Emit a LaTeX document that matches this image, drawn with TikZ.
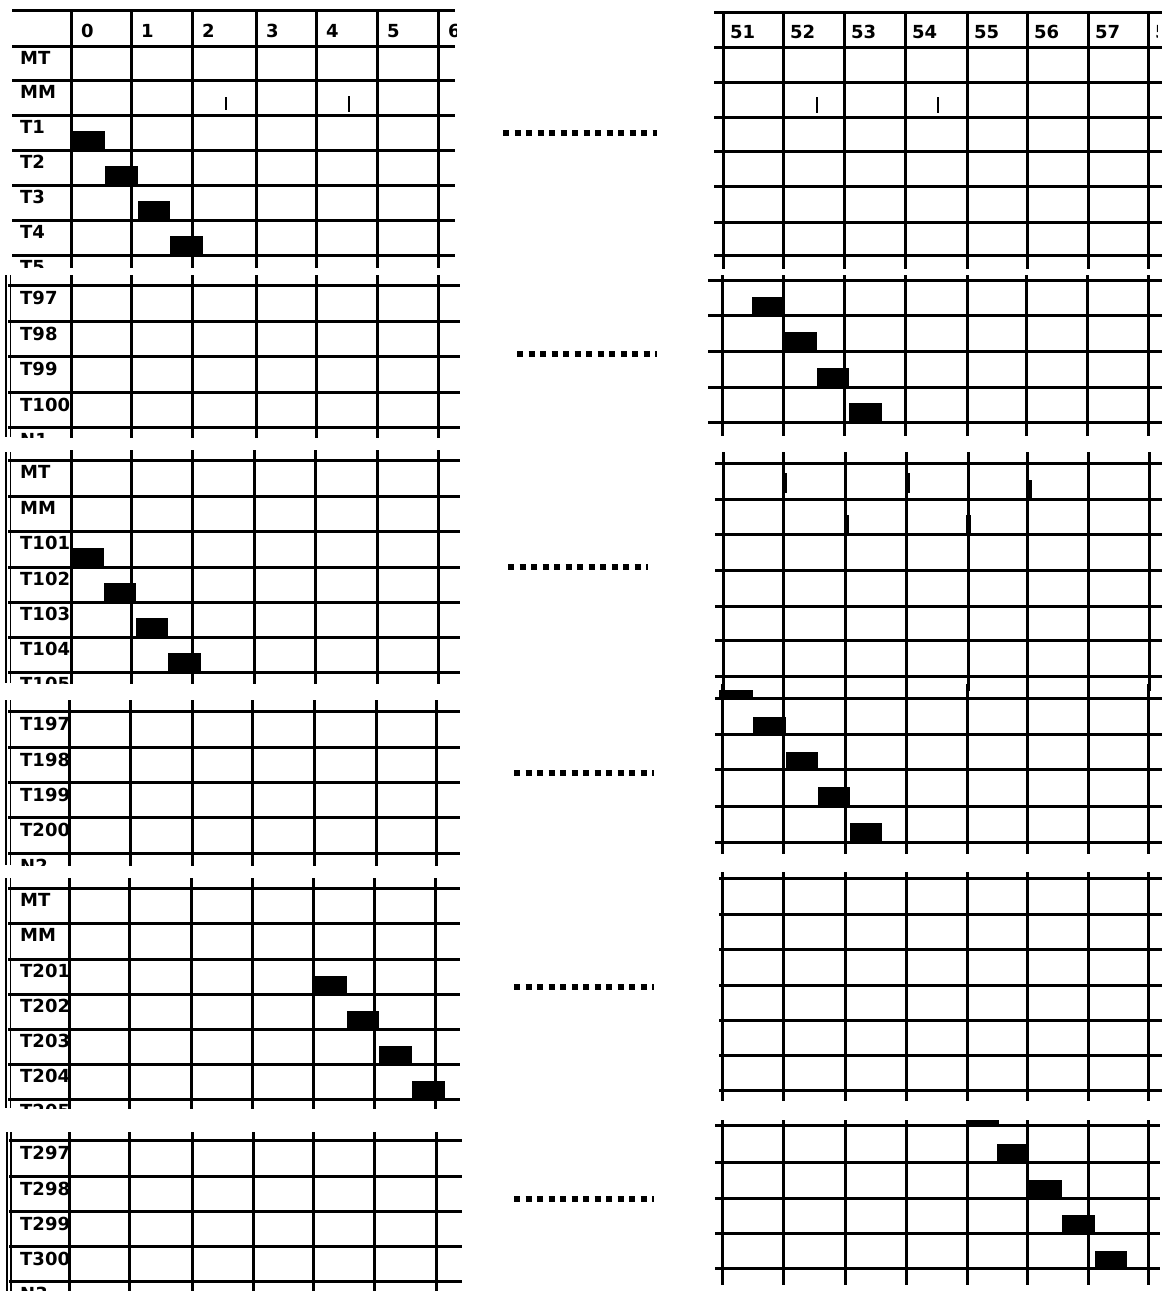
\documentclass[tikz,border=0pt]{standalone}
\usepackage{fontspec}
\setmainfont{DejaVu Sans}
\begin{document}
\begin{tikzpicture}[x=1pt,y=-1pt,
  grid/.style={line width=3pt},
  lab/.style={anchor=base west, inner sep=0pt, font=\fontsize{18}{18}\selectfont\bfseries},
  dots/.style={line width=5.5pt, dash pattern=on 6pt off 5.5pt},
  tickmark/.style={line width=2pt},
  thickmark/.style={line width=5pt},
  dblthick/.style={line width=2.5pt},
  dblthin/.style={line width=1.2pt}]
\useasboundingbox[fill=white] (0,0) rectangle (1169,1291);

% ================= LEFT BLOCK 1 =================
\begin{scope}
\clip (0,0) rectangle (456,267);
\foreach \y in {10,46,80,115,150,185,220,255} \draw[grid] (12,\y) -- (455,\y);
\foreach \x in {71,131,192,256,316,377,438} \draw[grid] (\x,10) -- (\x,275);
\foreach \x/\t in {71/0,131/1,192/2,256/3,316/4,377/5,438/6} \node[lab] (ah\t) at (\x+10,37) {\t};
\foreach \y/\t in {46/MT,80/MM,115/T1,150/T2,185/T3,220/T4,255/T5} \node[lab] (a\t) at (20,\y+18) {\t};
\fill (71,131) rectangle (105,150);
\fill (105,166) rectangle (138,185);
\fill (138,201) rectangle (170,220);
\fill (170,236) rectangle (203,255);
\draw[tickmark] (226,97) -- (226,110);
\draw[tickmark] (349,96) -- (349,112);
\end{scope}

% ================= LEFT BLOCK 2 =================
\begin{scope}
\clip (0,272) rectangle (462,437);
\draw[dblthick] (6,275) -- (6,437);
\draw[dblthin] (10.5,275) -- (10.5,437);
\foreach \y in {285,321,356,392,427} \draw[grid] (8,\y) -- (460,\y);
\foreach \x in {71,131,192,256,316,377,438} \draw[grid] (\x,275) -- (\x,440);
\begin{scope}
\clip (0,272) rectangle (69.5,437);
\foreach \y/\t in {285/T97,321/T98,356/T99,392/T100,427/N1} \node[lab] (b\t) at (20,\y+19) {\t};
\end{scope}
\end{scope}

% ================= LEFT BLOCK 3 =================
\begin{scope}
\clip (0,448) rectangle (462,683);
\draw[dblthick] (6,452) -- (6,683);
\draw[dblthin] (10.5,452) -- (10.5,683);
\foreach \y in {460,496,531,567,602,637,672} \draw[grid] (8,\y) -- (460,\y);
\foreach \x in {71,131,192,254,315,377,438} \draw[grid] (\x,450) -- (\x,690);
\begin{scope}
\clip (0,448) rectangle (69.5,683);
\foreach \y/\t in {460/MT,496/MM,531/T101,567/T102,602/T103,637/T104,672/T105} \node[lab] (c\t) at (20,\y+18) {\t};
\end{scope}
\fill (71,548) rectangle (104,567);
\fill (104,583) rectangle (136,602);
\fill (136,618) rectangle (168,637);
\fill (168,653) rectangle (201,672);
\end{scope}

% ================= LEFT BLOCK 4 =================
\begin{scope}
\clip (0,698) rectangle (462,865);
\draw[dblthick] (6,700) -- (6,865);
\draw[dblthin] (10.5,700) -- (10.5,865);
\foreach \y in {711,747,782,817,853} \draw[grid] (8,\y) -- (460,\y);
\foreach \x in {69,130,192,252,314,376,436} \draw[grid] (\x,700) -- (\x,870);
\begin{scope}
\clip (0,698) rectangle (67.5,865);
\foreach \y/\t in {711/T197,747/T198,782/T199,817/T200,853/N2} \node[lab] (d\t) at (20,\y+19) {\t};
\end{scope}
\end{scope}

% ================= LEFT BLOCK 5 =================
\begin{scope}
\clip (0,875) rectangle (462,1108);
\draw[dblthick] (6,878) -- (6,1108);
\draw[dblthin] (10.5,878) -- (10.5,1108);
\foreach \y in {888,923,959,994,1029,1064,1099} \draw[grid] (8,\y) -- (460,\y);
\foreach \x in {69,129,191,252,313,374,435} \draw[grid] (\x,878) -- (\x,1112);
\begin{scope}
\clip (0,875) rectangle (67.5,1108);
\foreach \y/\t in {888/MT,923/MM,959/T201,994/T202,1029/T203,1064/T204,1099/T205} \node[lab] (e\t) at (20,\y+18) {\t};
\end{scope}
\fill (313,976) rectangle (347,994);
\fill (347,1011) rectangle (379,1029);
\fill (379,1046) rectangle (412,1064);
\fill (412,1081) rectangle (445,1099);
\end{scope}

% ================= LEFT BLOCK 6 =================
\begin{scope}
\clip (0,1129) rectangle (462,1291);
\draw[dblthick] (7,1132) -- (7,1291);
\draw[dblthin] (11,1132) -- (11,1291);
\foreach \y in {1140,1176,1211,1246,1281} \draw[grid] (9,\y) -- (462,\y);
\foreach \x in {69,129,192,253,313,374,436} \draw[grid] (\x,1132) -- (\x,1295);
\begin{scope}
\clip (0,1129) rectangle (67.5,1291);
\foreach \y/\t in {1140/T297,1176/T298,1211/T299,1246/T300,1281/N3} \node[lab] (f\t) at (20,\y+19) {\t};
\end{scope}
\end{scope}

% ================= DOTTED SEPARATORS =================
\draw[dots] (503,133) -- (657,133);
\draw[dots] (517,354) -- (657,354);
\draw[dots] (508,567) -- (648,567);
\draw[dots] (514,773) -- (654,773);
\draw[dots] (514,987) -- (654,987);
\draw[dots] (514,1199) -- (654,1199);

% ================= RIGHT BLOCK 1 =================
\begin{scope}
\clip (705,0) rectangle (1169,268);
\foreach \y in {12,47,82,117,151,186,222,255} \draw[grid] (714,\y) -- (1162,\y);
\foreach \x in {723,783,844,905,967,1027,1088,1148} \draw[grid] (\x,12) -- (\x,275);
\begin{scope}
\clip (705,0) rectangle (1157,268);
\foreach \x/\t in {723/51,783/52,844/53,905/54,967/55,1027/56,1088/57,1148/58} \node[lab] (gh\t) at (\x+7,38) {\t};
\end{scope}
\draw[tickmark] (817,97) -- (817,113);
\draw[tickmark] (938,97) -- (938,113);
\end{scope}

% ================= RIGHT BLOCK 2 =================
\begin{scope}
\clip (705,272) rectangle (1169,435);
\foreach \y in {280,315,351,387,422} \draw[grid] (708,\y) -- (1162,\y);
\foreach \x in {722,783,844,905,967,1026,1087,1148} \draw[grid] (\x,275) -- (\x,440);
\fill (752,297) rectangle (785,315);
\fill (785,332) rectangle (817,351);
\fill (817,368) rectangle (849,387);
\fill (849,403) rectangle (882,422);
\end{scope}

% ================= RIGHT BLOCK 3 =================
\begin{scope}
\clip (705,450) rectangle (1169,690);
\foreach \y in {463,499,534,570,606,640,676} \draw[grid] (715,\y) -- (1162,\y);
\foreach \x in {723,783,845,906,968,1027,1088,1149} \draw[grid] (\x,452) -- (\x,695);
\draw[thickmark] (784,473) -- (784,493);
\draw[thickmark] (907,473) -- (907,493);
\draw[thickmark] (1029,480) -- (1029,500);
\draw[thickmark] (846,515) -- (846,533);
\draw[thickmark] (968,515) -- (968,533);
\end{scope}

% ================= RIGHT BLOCK 4 =================
\begin{scope}
\clip (705,684) rectangle (1169,853);
\foreach \y in {698,734,769,806,842} \draw[grid] (715,\y) -- (1162,\y);
\foreach \x in {722,783,845,906,967,1027,1088,1148} \draw[grid] (\x,684) -- (\x,860);
\fill (719,690) rectangle (753,698);
\fill (753,717) rectangle (786,734);
\fill (786,752) rectangle (818,769);
\fill (818,787) rectangle (850,806);
\fill (850,823) rectangle (882,842);
\end{scope}

% ================= RIGHT BLOCK 5 =================
\begin{scope}
\clip (705,870) rectangle (1169,1100);
\foreach \y in {878,914,949,985,1020,1055,1090} \draw[grid] (719,\y) -- (1162,\y);
\foreach \x in {722,783,845,906,967,1027,1088,1148} \draw[grid] (\x,872) -- (\x,1105);
\end{scope}

% ================= RIGHT BLOCK 6 =================
\begin{scope}
\clip (705,1116) rectangle (1169,1284);
\foreach \y in {1125,1162,1198,1233,1268} \draw[grid] (715,\y) -- (1160,\y);
\foreach \x in {722,783,845,906,967,1027,1088,1148} \draw[grid] (\x,1120) -- (\x,1290);
\fill (966,1120) rectangle (999,1127);
\fill (997,1144) rectangle (1028,1162);
\fill (1028,1180) rectangle (1062,1198);
\fill (1062,1215) rectangle (1095,1233);
\fill (1095,1251) rectangle (1127,1268);
\end{scope}
\end{tikzpicture}
\end{document}
